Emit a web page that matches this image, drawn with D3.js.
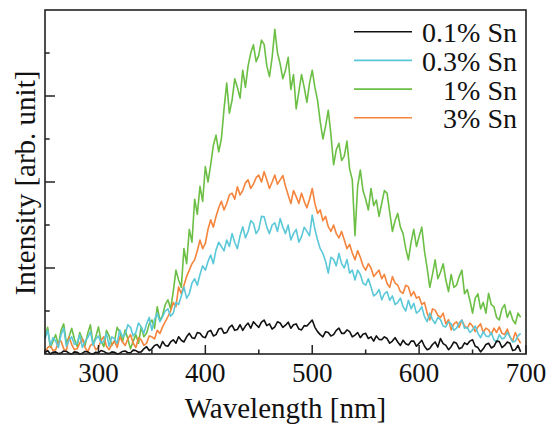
<!DOCTYPE html>
<html>
<head>
<meta charset="utf-8">
<script src="https://cdn.jsdelivr.net/npm/d3@7"></script>
<style>
  body { margin: 0; background: #fff; }
</style>
</head>
<body>
<div id="main"></div>
<script>
// wavelength grid (nm), 2.5 nm steps, 250..695
var wavelengths = d3.range(250, 696, 2.5);

var sn01 = [0.03, 0.08, 0.00, 0.04, 0.05, 0.01, 0.02, 0.07, 0.06, 0.02,
    0.00, 0.05, 0.04, 0.00, 0.02, 0.06, 0.05, 0.01, 0.00, 0.04,
    0.03, 0.08, 0.06, 0.02, 0.01, 0.05, 0.04, 0.00, 0.02, 0.06,
    0.07, 0.03, 0.03, 0.09, 0.08, 0.04, 0.05, 0.12, 0.17, 0.08,
    0.12, 0.20, 0.22, 0.14, 0.29, 0.20, 0.18, 0.28, 0.33, 0.25,
    0.40, 0.32, 0.28, 0.40, 0.48, 0.38, 0.36, 0.50, 0.48, 0.40,
    0.38, 0.52, 0.55, 0.42, 0.45, 0.58, 0.60, 0.48, 0.50, 0.62,
    0.67, 0.55, 0.57, 0.68, 0.55, 0.65, 0.72, 0.60, 0.75, 0.68,
    0.62, 0.74, 0.79, 0.66, 0.70, 0.58, 0.63, 0.75, 0.72, 0.62,
    0.67, 0.74, 0.60, 0.68, 0.70, 0.58, 0.56, 0.66, 0.65, 0.72,
    0.79, 0.62, 0.52, 0.45, 0.40, 0.52, 0.50, 0.42, 0.45, 0.55,
    0.60, 0.48, 0.48, 0.56, 0.52, 0.40, 0.44, 0.50, 0.38, 0.46,
    0.48, 0.36, 0.40, 0.30, 0.42, 0.34, 0.33, 0.40, 0.36, 0.25,
    0.30, 0.38, 0.28, 0.20, 0.32, 0.24, 0.21, 0.30, 0.30, 0.18,
    0.25, 0.32, 0.18, 0.10, 0.13, 0.22, 0.28, 0.16, 0.36, 0.24,
    0.20, 0.10, 0.17, 0.28, 0.25, 0.12, 0.15, 0.26, 0.22, 0.30,
    0.33, 0.18, 0.15, 0.05, 0.12, 0.22, 0.25, 0.14, 0.18, 0.30,
    0.29, 0.15, 0.20, 0.28, 0.25, 0.08, 0.10, 0.20, 0.05];

var sn03 = [0.35, 0.55, 0.20, 0.38, 0.30, 0.15, 0.45, 0.60, 0.18, 0.32,
    0.40, 0.22, 0.25, 0.45, 0.15, 0.30, 0.38, 0.52, 0.20, 0.35,
    0.42, 0.25, 0.30, 0.48, 0.18, 0.40, 0.35, 0.25, 0.56, 0.40,
    0.45, 0.68, 0.62, 0.42, 0.50, 0.72, 0.63, 0.48, 0.70, 0.85,
    0.55, 0.80, 0.95, 0.75, 0.87, 1.00, 1.05, 0.88, 0.95, 1.20,
    1.15, 1.35, 1.56, 1.30, 1.40, 1.65, 1.75, 1.60, 1.85, 2.05,
    1.95, 2.15, 2.30, 2.10, 2.42, 2.60, 2.50, 2.40, 2.65, 2.50,
    2.80, 2.60, 2.45, 2.75, 2.96, 2.70, 2.85, 3.10, 3.04, 2.80,
    2.90, 3.20, 3.19, 2.95, 2.80, 3.00, 3.05, 2.85, 3.15, 2.95,
    2.80, 3.00, 2.65, 2.80, 2.90, 2.60, 2.73, 2.95, 2.85, 2.75,
    3.23, 2.90, 2.65, 2.45, 2.34, 2.15, 1.88, 2.25, 2.20, 2.05,
    2.34, 2.10, 2.00, 2.20, 1.88, 1.95, 1.72, 1.95, 1.85, 1.65,
    1.60, 1.75, 1.56, 1.35, 1.40, 1.50, 1.26, 1.40, 1.45, 1.25,
    1.35, 1.15, 1.20, 1.30, 1.10, 1.00, 1.25, 1.05, 1.18, 0.95,
    1.00, 1.10, 0.87, 0.75, 0.95, 0.80, 0.71, 0.85, 0.80, 0.65,
    0.63, 0.75, 0.70, 0.55, 0.60, 0.72, 0.79, 0.60, 0.62, 0.50,
    0.56, 0.65, 0.48, 0.38, 0.52, 0.42, 0.40, 0.50, 0.33, 0.28,
    0.45, 0.35, 0.38, 0.50, 0.40, 0.28, 0.30, 0.42, 0.48];

var sn1 = [0.40, 0.62, 0.15, 0.30, 0.45, 0.20, 0.55, 0.70, 0.25, 0.40,
    0.60, 0.35, 0.18, 0.50, 0.35, 0.20, 0.48, 0.68, 0.22, 0.40,
    0.63, 0.30, 0.17, 0.55, 0.42, 0.20, 0.30, 0.62, 0.50, 0.28,
    0.56, 0.35, 0.12, 0.30, 0.45, 0.25, 0.63, 0.40, 0.48, 0.70,
    0.79, 0.60, 1.10, 0.78, 0.90, 1.15, 1.26, 1.05, 1.45, 1.95,
    1.72, 1.55, 2.45, 2.10, 2.90, 2.60, 3.60, 3.25, 3.90, 3.55,
    4.36, 4.00, 4.40, 4.85, 5.09, 4.70, 5.00, 5.70, 6.30, 5.60,
    5.90, 6.40, 6.20, 5.95, 6.60, 6.20, 6.70, 7.00, 7.19, 6.80,
    6.95, 7.30, 7.20, 6.70, 6.45, 6.90, 7.55, 7.00, 6.75, 6.40,
    6.60, 6.90, 6.15, 6.50, 5.70, 6.10, 6.50, 6.20, 5.85, 6.30,
    6.60, 6.20, 5.90, 5.40, 5.00, 5.30, 5.67, 5.10, 4.40, 4.75,
    4.90, 4.50, 4.60, 4.95, 4.30, 4.05, 2.75, 3.90, 4.28, 3.80,
    3.60, 3.35, 3.85, 3.45, 3.58, 3.20, 3.50, 3.80, 3.74, 3.30,
    2.85, 3.10, 3.27, 2.95, 2.80, 2.45, 2.19, 2.60, 2.90, 2.50,
    2.73, 2.95, 2.40, 2.00, 1.55, 1.85, 2.19, 1.75, 1.90, 2.10,
    1.72, 1.45, 1.85, 1.55, 1.60, 1.80, 1.95, 1.40, 1.50, 1.25,
    0.95, 1.30, 1.40, 1.05, 1.20, 0.95, 1.41, 1.15, 1.10, 0.85,
    0.79, 1.05, 1.15, 0.85, 1.00, 0.80, 0.70, 0.95, 0.85];

var sn3 = [0.05, 0.15, 0.20, 0.08, 0.10, 0.28, 0.30, 0.12, 0.08, 0.40,
    0.22, 0.10, 0.12, 0.25, 0.35, 0.15, 0.05, 0.20, 0.25, 0.10,
    0.15, 0.32, 0.40, 0.18, 0.10, 0.22, 0.30, 0.15, 0.40, 0.28,
    0.20, 0.35, 0.45, 0.25, 0.15, 0.38, 0.33, 0.20, 0.25, 0.42,
    0.40, 0.35, 0.55, 0.48, 0.63, 0.75, 0.87, 1.00, 1.20, 1.10,
    1.56, 1.40, 1.60, 1.80, 1.95, 2.10, 2.19, 2.40, 2.65, 2.45,
    2.57, 2.90, 3.12, 2.95, 3.20, 3.40, 3.55, 3.35, 3.50, 3.70,
    3.74, 3.60, 3.89, 3.70, 3.80, 3.98, 4.05, 3.85, 3.95, 4.10,
    4.16, 4.00, 4.24, 4.05, 3.85, 4.00, 4.16, 3.95, 4.05, 4.15,
    3.90, 3.70, 3.50, 3.80, 3.66, 3.50, 3.74, 3.55, 3.40, 3.60,
    3.85, 3.50, 3.27, 3.35, 3.10, 3.20, 2.96, 2.85, 3.00, 2.80,
    2.70, 2.85, 2.65, 2.45, 2.55, 2.35, 2.19, 2.40, 2.25, 2.05,
    1.95, 2.10, 2.00, 1.80, 1.88, 1.95, 1.75, 1.85, 1.64, 1.55,
    1.80, 1.65, 1.60, 1.45, 1.41, 1.60, 1.56, 1.35, 1.45, 1.30,
    1.33, 1.15, 1.20, 0.95, 0.79, 1.05, 1.02, 0.90, 0.85, 0.95,
    0.70, 0.80, 0.56, 0.70, 0.75, 0.62, 0.79, 0.65, 0.60, 0.72,
    0.65, 0.52, 0.63, 0.70, 0.50, 0.60, 0.56, 0.45, 0.60, 0.50,
    0.63, 0.48, 0.45, 0.58, 0.40, 0.30, 0.50, 0.35, 0.25];

var seriesNames = ["0.1% Sn", "0.3% Sn", "1% Sn", "3% Sn"];
var seriesColors = ["#111111", "#5bc8d8", "#6cbf45", "#f5843c"];

var xTicks = [300, 400, 500, 600, 700];

var ctx = {
    w: 553,
    h: 425,
    margin: { top: 10, right: 27, bottom: 71, left: 45 },
};

var serif = "'Liberation Serif', 'Times New Roman', Times, 'DejaVu Serif', serif";

var createViz = function () {
    var svg = d3.select("#main").append("svg")
        .attr("width", ctx.w)
        .attr("height", ctx.h)
        .attr("font-family", serif)
        .style("font-family", serif);
    var width = ctx.w - ctx.margin.left - ctx.margin.right;
    var height = ctx.h - ctx.margin.top - ctx.margin.bottom;
    var g = svg.append("g")
        .attr("transform", "translate(" + ctx.margin.left + "," + ctx.margin.top + ")");

    var x = d3.scaleLinear().domain([250, 700]).range([0, width]);
    var y = d3.scaleLinear().domain([0, 8]).range([height, 0]);

    // curves
    var line = d3.line()
        .x(function (d, i) { return x(wavelengths[i]); })
        .y(function (d) { return y(d); });
    var allSeries = [sn01, sn03, sn1, sn3];
    var drawOrder = [2, 3, 1, 0];
    drawOrder.forEach(function (k) {
        g.append("path")
            .datum(allSeries[k])
            .attr("fill", "none")
            .attr("stroke", seriesColors[k])
            .attr("stroke-width", 1.6)
            .attr("stroke-linejoin", "round")
            .attr("d", line);
    });

    // x axis: major + minor ticks pointing inward
    var xMinor = d3.range(250, 701, 50);
    g.append("g")
        .attr("transform", "translate(0," + height + ")")
        .selectAll("line")
        .data(xMinor)
        .enter().append("line")
        .attr("x1", function (d) { return x(d); })
        .attr("x2", function (d) { return x(d); })
        .attr("y1", 0)
        .attr("y2", function (d) { return d % 100 === 0 ? -9 : -4.5; })
        .attr("stroke", "#222")
        .attr("stroke-width", 1.5);

    g.append("g")
        .selectAll("text")
        .data(xTicks)
        .enter().append("text")
        .attr("x", function (d) { return x(d); })
        .attr("y", height + 28)
        .attr("text-anchor", "middle")
        .attr("fill", "#111")
        .style("font-size", "27px")
        .text(function (d) { return d; });

    // y axis ticks (no labels)
    var yMinor = d3.range(1, 8, 1);
    g.append("g")
        .selectAll("line")
        .data(yMinor)
        .enter().append("line")
        .attr("x1", 0)
        .attr("x2", function (d) { return d % 2 === 0 ? 10 : 4.7; })
        .attr("y1", function (d) { return y(d); })
        .attr("y2", function (d) { return y(d); })
        .attr("stroke", "#222")
        .attr("stroke-width", 1.5);

    // frame
    g.append("rect")
        .attr("x", 0).attr("y", 0)
        .attr("width", width).attr("height", height)
        .attr("fill", "none")
        .attr("stroke", "#222")
        .attr("stroke-width", 1.6);

    // axis titles
    svg.append("text")
        .attr("x", ctx.margin.left + x(475))
        .attr("y", 418)
        .attr("text-anchor", "middle")
        .attr("fill", "#111")
        .style("font-size", "29px")
        .text("Wavelength [nm]");

    svg.append("text")
        .attr("transform", "translate(35," + 183 + ") rotate(-90)")
        .attr("text-anchor", "middle")
        .attr("fill", "#111")
        .style("font-size", "29px")
        .text("Intensity [arb. unit]");

    // legend
    var legend = svg.append("g");
    seriesNames.forEach(function (name, i) {
        var ly = 31.7 + i * 28.7;
        legend.append("line")
            .attr("x1", 354).attr("x2", 412)
            .attr("y1", ly).attr("y2", ly)
            .attr("stroke", seriesColors[i])
            .attr("stroke-width", 1.6);
        legend.append("text")
            .attr("x", 517)
            .attr("y", ly + 10.5)
            .attr("text-anchor", "end")
            .attr("fill", "#111")
            .style("font-size", "28px")
            .text(name);
    });
};

createViz();
</script>
</body>
</html>
